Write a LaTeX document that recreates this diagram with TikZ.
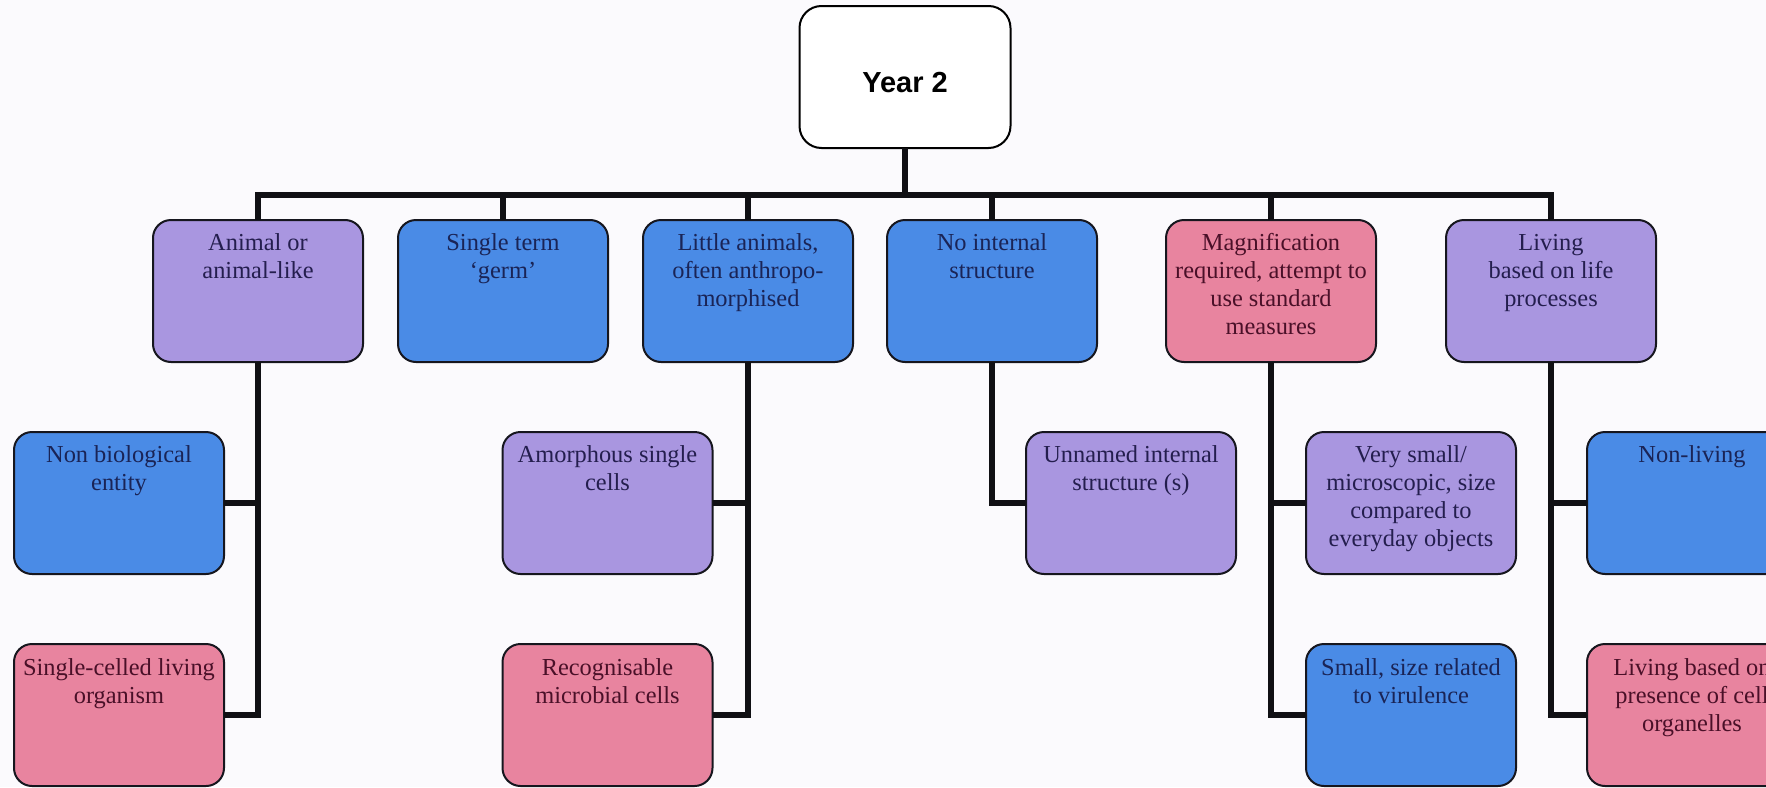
\documentclass[tikz,border=0pt]{standalone}
\usepackage{fontspec}
\setmainfont{Liberation Serif}
\newfontfamily\headfont{Liberation Sans}

% fills, outlines and text colours of the three kinds of card
\definecolor{pagebg}{HTML}{FBFAFD}
\definecolor{cblue}{HTML}{4A8BE6}
\definecolor{cpurple}{HTML}{A996E0}
\definecolor{cpink}{HTML}{E8849F}
\definecolor{tblue}{HTML}{1A2456}
\definecolor{tpurple}{HTML}{241E4E}
\definecolor{tpink}{HTML}{4A1028}
\definecolor{edgecol}{HTML}{16161E}
\definecolor{linecol}{HTML}{101014}

% centred lines of a card, first baseline at the node's base anchor
\newcommand\cardlines[1]{\parbox[t]{206pt}{\centering #1}}

\begin{document}
\begin{tikzpicture}[x=1pt,y=1pt,
  card/.style={draw=edgecol, line width=2pt, rounded corners=18pt,
    minimum width=210pt, minimum height=142pt, inner sep=0pt, outer sep=0pt},
  bluecard/.style={card, fill=cblue},
  purplecard/.style={card, fill=cpurple},
  pinkcard/.style={card, fill=cpink},
  cardtext/.style={anchor=base, inner sep=0pt,
    font=\fontsize{24.4}{28}\selectfont},
  conn/.style={draw=linecol, line width=6pt},
]
\fill[pagebg] (0,0) rectangle (1766,-787);
\useasboundingbox (0,0) rectangle (1766,-787);
\clip (0,0) rectangle (1766,-787);

% root
\node[card, draw=black, fill=white, minimum width=211pt, rounded corners=22pt]
  (year) at (905,-77) {};
\node[anchor=base, inner sep=0pt, font=\headfont\bfseries\fontsize{29}{34}\selectfont]
  (year-t) at (905,-92) {Year 2};
\coordinate (bus) at (905,-195);

% first level
\node[purplecard] (animal) at (258,-291) {};
\node[bluecard]   (germ)   at (503,-291) {};
\node[bluecard]   (little) at (748,-291) {};
\node[bluecard]   (nostruct) at (992,-291) {};
\node[pinkcard]   (magnif) at (1271,-291) {};
\node[purplecard] (living) at (1551,-291) {};

% second level
\node[bluecard]   (nonbio)    at (119,-503) {};
\node[purplecard] (amorph)    at (607.5,-503) {};
\node[purplecard] (unnamed)   at (1131,-503) {};
\node[purplecard] (verysmall) at (1411,-503) {};
\node[bluecard]   (nonliving) at (1692,-503) {};

% third level
\node[pinkcard] (singlecell) at (119,-715) {};
\node[pinkcard] (recog)      at (607.5,-715) {};
\node[bluecard] (virulence)  at (1411,-715) {};
\node[pinkcard] (organelle)  at (1692,-715) {};

% card texts
\node[cardtext, text=tpurple] (animal-t) at ([yshift=-30pt]animal.north)
  {\cardlines{Animal or\\animal-like}};
\node[cardtext, text=tblue] (germ-t) at ([yshift=-30pt]germ.north)
  {\cardlines{Single term\\‘germ’}};
\node[cardtext, text=tblue] (little-t) at ([yshift=-30pt]little.north)
  {\cardlines{Little animals,\\often anthropo-\\morphised}};
\node[cardtext, text=tblue] (nostruct-t) at ([yshift=-30pt]nostruct.north)
  {\cardlines{No internal\\structure}};
\node[cardtext, text=tpink] (magnif-t) at ([yshift=-30pt]magnif.north)
  {\cardlines{Magnification\\required, attempt to\\use standard\\measures}};
\node[cardtext, text=tpurple] (living-t) at ([yshift=-30pt]living.north)
  {\cardlines{Living\\based on life\\processes}};
\node[cardtext, text=tblue] (nonbio-t) at ([yshift=-30pt]nonbio.north)
  {\cardlines{Non biological\\entity}};
\node[cardtext, text=tpurple] (amorph-t) at ([yshift=-30pt]amorph.north)
  {\cardlines{Amorphous single\\cells}};
\node[cardtext, text=tpurple] (unnamed-t) at ([yshift=-30pt]unnamed.north)
  {\cardlines{Unnamed internal\\structure (s)}};
\node[cardtext, text=tpurple] (verysmall-t) at ([yshift=-30pt]verysmall.north)
  {\cardlines{Very small/\\microscopic, size\\compared to\\everyday objects}};
\node[cardtext, text=tblue] (nonliving-t) at ([yshift=-30pt]nonliving.north)
  {\cardlines{Non-living}};
\node[cardtext, text=tpink] (singlecell-t) at ([yshift=-31pt]singlecell.north)
  {\cardlines{Single-celled living\\organism}};
\node[cardtext, text=tpink] (recog-t) at ([yshift=-31pt]recog.north)
  {\cardlines{Recognisable\\microbial cells}};
\node[cardtext, text=tblue] (virulence-t) at ([yshift=-31pt]virulence.north)
  {\cardlines{Small, size related\\to virulence}};
\node[cardtext, text=tpink] (organelle-t) at ([yshift=-31pt]organelle.north)
  {\cardlines{Living based on\\presence of cell\\organelles}};

% connectors
\draw[conn] (year.south) -- (bus);
\foreach \n in {animal,germ,little,nostruct,magnif,living}
  \draw[conn] (bus) -| (\n.north);
\draw[conn] (animal.south) |- (nonbio.east);
\draw[conn] (animal.south) |- (singlecell.east);
\draw[conn] (little.south) |- (amorph.east);
\draw[conn] (little.south) |- (recog.east);
\draw[conn] (nostruct.south) |- (unnamed.west);
\draw[conn] (magnif.south) |- (verysmall.west);
\draw[conn] (magnif.south) |- (virulence.west);
\draw[conn] (living.south) |- (nonliving.west);
\draw[conn] (living.south) |- (organelle.west);
\end{tikzpicture}
\end{document}
